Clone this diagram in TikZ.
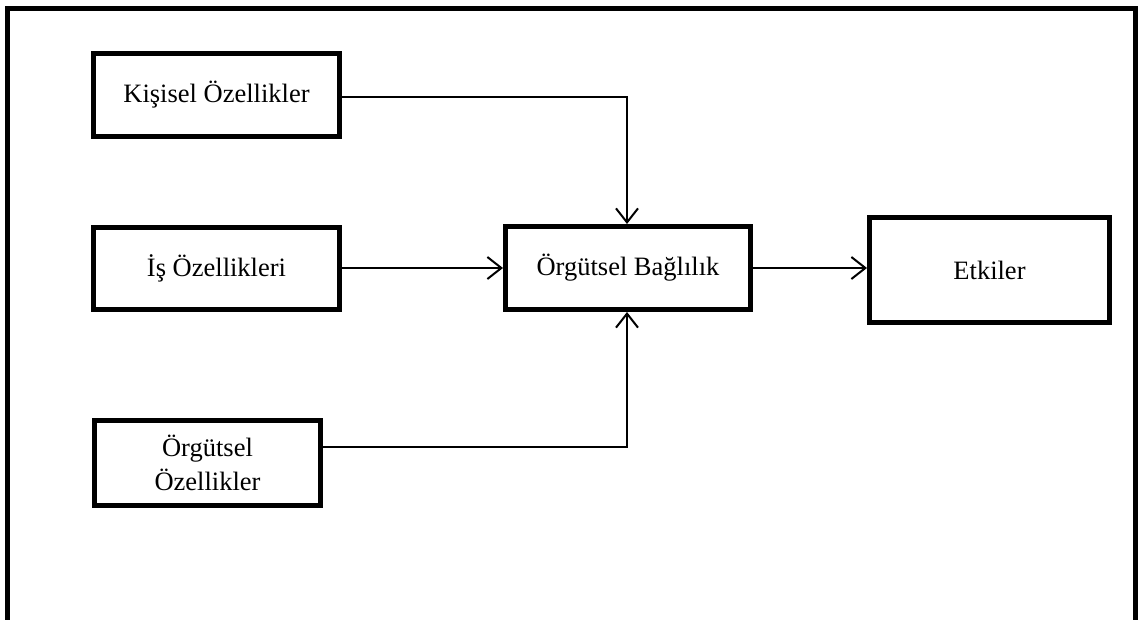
\documentclass[tikz,border=0pt]{standalone}
\usepackage{fontspec}
\setmainfont{Liberation Serif}
\usetikzlibrary{arrows.meta}
\begin{document}
\begin{tikzpicture}[x=1pt,y=-1pt,
  box/.style={draw,line width=5pt,rectangle,align=center,inner sep=0pt,
    font=\fontsize{26.5}{34}\selectfont},
  link/.style={line width=2pt,-{Straight Barb[length=14pt,width=22pt]}}]
\useasboundingbox (0,0) rectangle (1138,619);
% outer frame, open at the bottom
\draw[line width=5pt] (7.5,640) -- (7.5,8.5) -- (1135,8.5) -- (1135,640);
% boxes
\node[box,minimum width=246pt,minimum height=83pt] (kisisel) at (216.5,95) {Kişisel Özellikler};
\node[box,minimum width=246pt,minimum height=82pt] (is) at (216.5,268.5) {İş Özellikleri};
\node[box,minimum width=245pt,minimum height=83pt] (bag) at (628,268) {Örgütsel Bağlılık};
\node[box,minimum width=240pt,minimum height=105pt] (etki) at (989.5,270) {Etkiler};
\node[box,minimum width=226pt,minimum height=85pt] (orgut) at (207.5,463) {Örgütsel\\Özellikler};
% connectors
\coordinate (k1) at (627,97);
\coordinate (o1) at (627,447);
\draw[link] (kisisel.east |- k1) -- (k1) -- (k1 |- bag.north);
\draw[link] (is.east |- bag.west) -- (bag.west);
\draw[link] (bag.east) -- (bag.east -| etki.west);
\draw[link] (orgut.east |- o1) -- (o1) -- (o1 |- bag.south);
\end{tikzpicture}
\end{document}
